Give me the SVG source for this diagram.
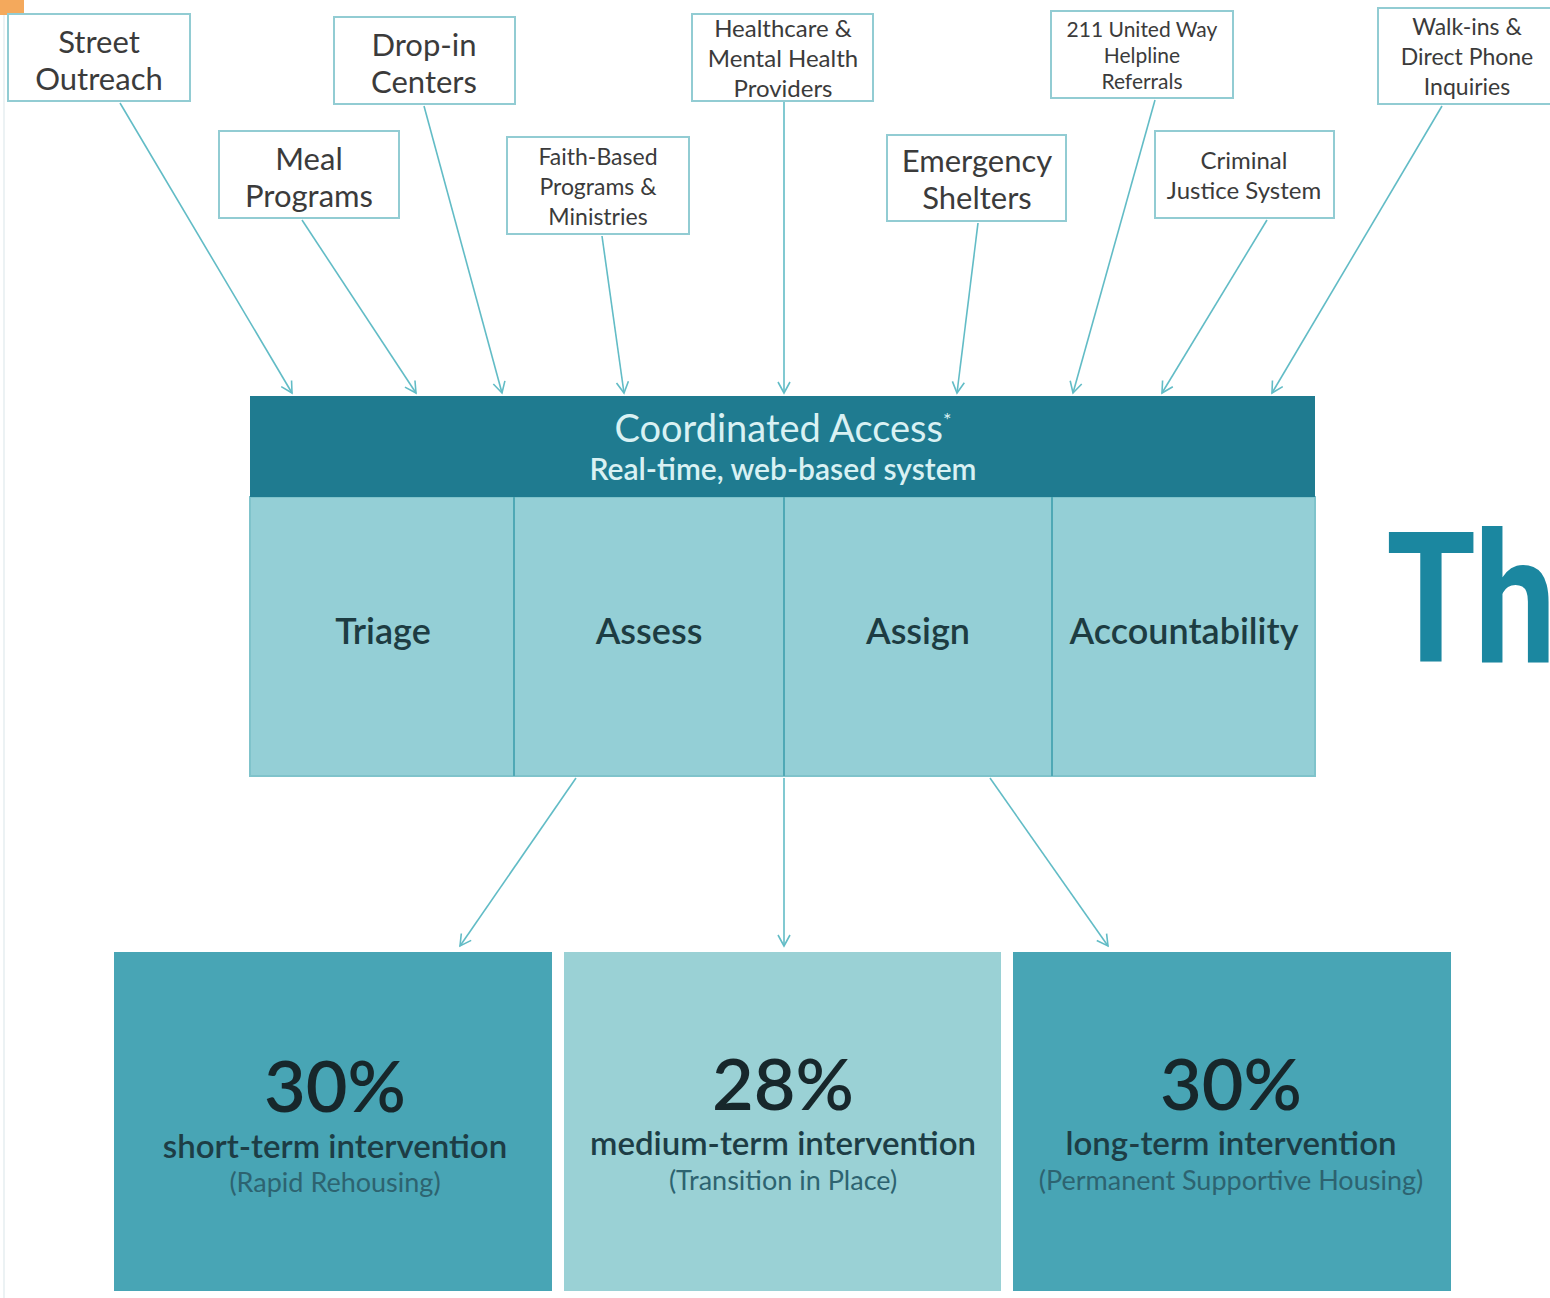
<svg xmlns="http://www.w3.org/2000/svg" width="1550" height="1298" viewBox="0 0 1550 1298">
<defs>
<style>
.src rect{fill:#fff;stroke:#92ccd3;stroke-width:2}
.src text{font-family:Lato,"Open Sans","Liberation Sans",sans-serif;fill:#3b3b3b;text-anchor:middle}
.conn line{stroke:#62bcc6;stroke-width:1.6;fill:none}
.col text{font-family:Lato,"Open Sans","Liberation Sans",sans-serif;font-size:36px;font-weight:600;fill:#1d3c42;text-anchor:middle}
.out text{font-family:Lato,"Open Sans","Liberation Sans",sans-serif;text-anchor:middle}
.pct{font-size:72px;font-weight:600;fill:#17272b}
.lbl{font-size:33px;font-weight:600;fill:#1d3d45}
.sub{font-size:27px;fill:#2d6370}
</style>
<marker id="ah" viewBox="0 0 14 14" refX="12" refY="7" markerWidth="14" markerHeight="14" markerUnits="userSpaceOnUse" orient="auto">
<path d="M1,1 L12,7 L1,13" fill="none" stroke="#62bcc6" stroke-width="1.6"/>
</marker>
</defs>
<rect width="1550" height="1298" fill="#fff"/>
<rect x="0" y="0" width="24" height="15" fill="#f4a95c"/>
<line x1="4" y1="15" x2="4" y2="1298" stroke="#e6eef0" stroke-width="1.5"/>

<g id="connectors" class="conn">
<line x1="120" y1="103" x2="292" y2="393" marker-end="url(#ah)"/>
<line x1="302" y1="220" x2="416" y2="393" marker-end="url(#ah)"/>
<line x1="424" y1="106" x2="502" y2="393" marker-end="url(#ah)"/>
<line x1="602" y1="236" x2="624" y2="393" marker-end="url(#ah)"/>
<line x1="784" y1="102" x2="784" y2="393" marker-end="url(#ah)"/>
<line x1="978" y1="223" x2="957" y2="393" marker-end="url(#ah)"/>
<line x1="1155" y1="100" x2="1073" y2="393" marker-end="url(#ah)"/>
<line x1="1267" y1="220" x2="1162" y2="393" marker-end="url(#ah)"/>
<line x1="1442" y1="106" x2="1272" y2="393" marker-end="url(#ah)"/>
<line x1="576" y1="778" x2="460" y2="946" marker-end="url(#ah)"/>
<line x1="784" y1="778" x2="784" y2="946" marker-end="url(#ah)"/>
<line x1="990" y1="778" x2="1108" y2="946" marker-end="url(#ah)"/>
</g>

<g id="street-outreach" class="src">
<rect x="8" y="14" width="182" height="87"/>
<text x="99" y="53" font-size="31">Street</text>
<text x="99" y="90" font-size="31">Outreach</text>
</g>
<g id="drop-in-centers" class="src">
<rect x="334" y="17" width="181" height="87"/>
<text x="424" y="56" font-size="31">Drop-in</text>
<text x="424" y="93" font-size="31">Centers</text>
</g>
<g id="meal-programs" class="src">
<rect x="219" y="131" width="180" height="87"/>
<text x="309" y="170" font-size="31">Meal</text>
<text x="309" y="207" font-size="31">Programs</text>
</g>
<g id="faith-based" class="src">
<rect x="507" y="137" width="182" height="97"/>
<text x="598" y="165" font-size="23">Faith-Based</text>
<text x="598" y="195" font-size="23">Programs &amp;</text>
<text x="598" y="225" font-size="23">Ministries</text>
</g>
<g id="healthcare" class="src">
<rect x="692" y="14" width="181" height="87"/>
<text x="783" y="37" font-size="24">Healthcare &amp;</text>
<text x="783" y="67" font-size="24">Mental Health</text>
<text x="783" y="97" font-size="24">Providers</text>
</g>
<g id="emergency-shelters" class="src">
<rect x="887" y="135" width="179" height="86"/>
<text x="977" y="172" font-size="31">Emergency</text>
<text x="977" y="209" font-size="31">Shelters</text>
</g>
<g id="united-way" class="src">
<rect x="1051" y="11" width="182" height="87"/>
<text x="1142" y="37" font-size="21">211 United Way</text>
<text x="1142" y="63" font-size="21">Helpline</text>
<text x="1142" y="89" font-size="21">Referrals</text>
</g>
<g id="criminal-justice" class="src">
<rect x="1155" y="131" width="179" height="87"/>
<text x="1244" y="169" font-size="24">Criminal</text>
<text x="1244" y="199" font-size="24">Justice System</text>
</g>
<g id="walk-ins" class="src">
<rect x="1378" y="8" width="180" height="96"/>
<text x="1467" y="35" font-size="23">Walk-ins &amp;</text>
<text x="1467" y="65" font-size="23">Direct Phone</text>
<text x="1467" y="95" font-size="23">Inquiries</text>
</g>

<g id="coordinated-access">
<rect x="250" y="497" width="1065" height="279" fill="#94cfd6" stroke="#7fc3cb" stroke-width="2"/>
<rect x="250" y="396" width="1065" height="101" fill="#1f7b90"/>
<text x="783" y="442" font-family="Lato,'Open Sans','Liberation Sans',sans-serif" font-size="38" fill="#d9f1f3" text-anchor="middle">Coordinated Access<tspan font-size="20" dy="-15">*</tspan></text>
<text x="783" y="480" font-family="Lato,'Open Sans','Liberation Sans',sans-serif" font-size="30" font-weight="600" fill="#d9f1f3" text-anchor="middle">Real-time, web-based system</text>
<line x1="514" y1="497" x2="514" y2="776" stroke="#4fa8b5" stroke-width="2"/>
<line x1="784" y1="497" x2="784" y2="776" stroke="#4fa8b5" stroke-width="2"/>
<line x1="1052" y1="497" x2="1052" y2="776" stroke="#4fa8b5" stroke-width="2"/>
<g class="col">
<text x="383" y="644">Triage</text>
<text x="649" y="644">Assess</text>
<text x="918" y="644">Assign</text>
<text x="1184" y="644">Accountability</text>
</g>
</g>

<text transform="translate(1386,662) scale(0.8,1)" x="0" y="0" font-family="Roboto,'Liberation Sans',sans-serif" font-weight="bold" font-size="182" fill="#1b87a0" letter-spacing="-2">Th</text>

<g id="short-term" class="out">
<rect x="114" y="952" width="438" height="339" fill="#48a5b5"/>
<text x="335" y="1112" class="pct">30%</text>
<text x="335" y="1158" class="lbl">short-term intervention</text>
<text x="335" y="1192" class="sub">(Rapid Rehousing)</text>
</g>
<g id="medium-term" class="out">
<rect x="564" y="952" width="437" height="339" fill="#9ad1d5"/>
<text x="783" y="1110" class="pct">28%</text>
<text x="783" y="1155" class="lbl" font-size="31">medium-term intervention</text>
<text x="783" y="1190" class="sub">(Transition in Place)</text>
</g>
<g id="long-term" class="out">
<rect x="1013" y="952" width="438" height="339" fill="#48a5b5"/>
<text x="1231" y="1110" class="pct">30%</text>
<text x="1231" y="1155" class="lbl" font-size="35">long-term intervention</text>
<text x="1231" y="1190" class="sub">(Permanent Supportive Housing)</text>
</g>
</svg>
